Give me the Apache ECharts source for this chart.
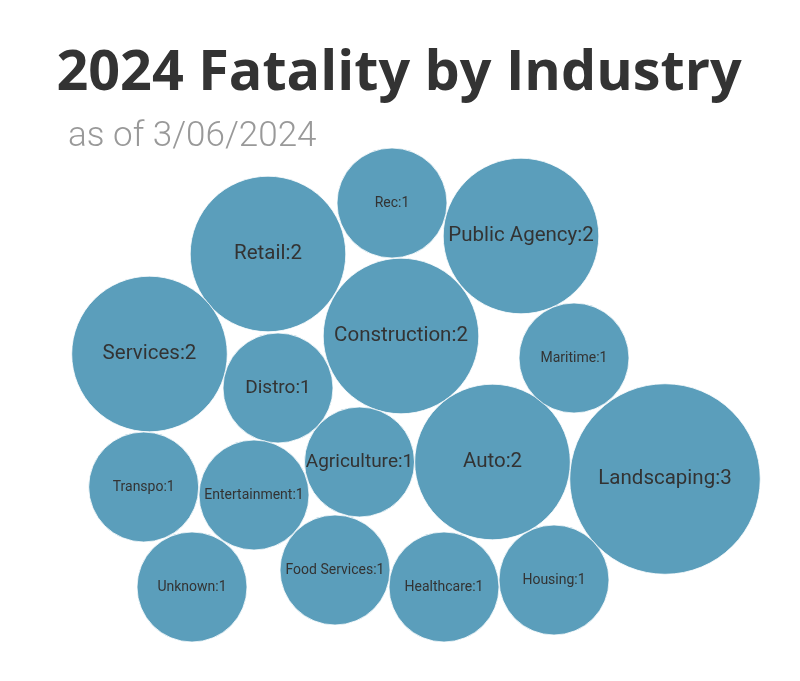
<!DOCTYPE html>
<html>
<head>
<meta charset="utf-8">
<script src="https://cdn.jsdelivr.net/npm/echarts@6/dist/echarts.min.js"></script>
<style>
html,body{margin:0;padding:0;background:#fff;}
#chart{width:800px;height:681px;}
</style>
</head>
<body>
<div id="chart"></div>
<script>
// Data
const industries = ['Landscaping','Retail','Public Agency','Services','Construction','Auto','Rec','Maritime','Distro','Agriculture','Transpo','Entertainment','Unknown','Food Services','Healthcare','Housing'];
const fatalities = [3,2,2,2,2,2,1,1,1,1,1,1,1,1,1,1];
// packed-bubble layout (axis units)
const bubbleX = [665,268,521,149.5,401,492.5,392,574,278,359.5,143.7,254,192,335,444,554];
const bubbleY = [479,254,236,354,336,462,203,358,388,462,487,495,587,570,587,580];
const largeLabels = ['Distro','Agriculture'];

const chart = echarts.init(document.getElementById('chart'));
const unitR = 55;
const data = industries.map((name,i)=>({
  name: name,
  value: [bubbleX[i], bubbleY[i], fatalities[i]],
  label: { fontSize: fatalities[i] > 1 ? 20.5 : (largeLabels.includes(name) ? 19 : 14) }
}));
chart.setOption({
  animation:false,
  title:[{
    text:'2024 Fatality by Industry',
    left:394, top:41, textAlign:'center',
    textStyle:{fontFamily:'"Open Sans", "Noto Sans", sans-serif', fontWeight:'bold', fontSize:55.7, color:'#333'}
  },{
    text:'as of 3/06/2024',
    left:63, top:115,
    textStyle:{fontFamily:'Roboto, sans-serif', fontWeight:300, fontSize:35, color:'#999'}
  }],
  grid:{left:0,right:0,top:0,bottom:0},
  xAxis:{type:'value',min:0,max:800,show:false},
  yAxis:{type:'value',min:0,max:681,inverse:true,show:false},
  series:[{
    type:'scatter',
    data:data,
    symbolSize:(v)=>2*unitR*Math.sqrt(v[2]),
    itemStyle:{color:'#5b9ebb',borderColor:'#fff',borderWidth:0.8,opacity:1},
    label:{show:true,position:'inside',color:'#333',fontFamily:'Roboto, sans-serif',
      formatter:(p)=>p.name+':'+p.value[2]},
    emphasis:{disabled:true}
  }]
});
</script>
</body>
</html>
